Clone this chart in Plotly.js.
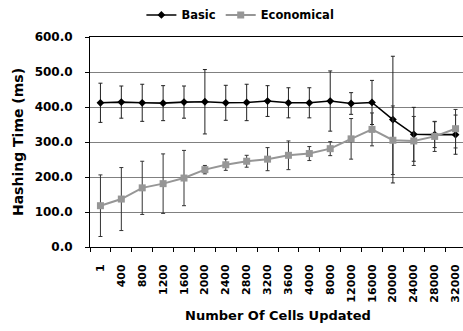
<!DOCTYPE html>
<html>
<head>
<meta charset="utf-8">
<script src="https://cdn.plot.ly/plotly-3.0.1.min.js"></script>
<style>
html,body{margin:0;padding:0;overflow:hidden;background:#fff;}
#chart{width:466px;height:331px;}
</style>
</head>
<body>
<div id="chart"></div>
<script>
const categories = ['1','400','800','1200','1600','2000','2400','2800','3200','3600','4000','8000','12000','16000','20000','24000','28000','32000'];
const basicValues = [412,414,412,411,414,415,412,413,417,412,412,417,410,413,364,322,321,321];
const basicErrors = [56,46,53,50,46,92,50,52,44,43,43,86,31,63,181,77,37,56];
const economicalValues = [118,137,169,181,197,221,235,245,251,262,267,281,309,336,305,303,316,338];
const economicalErrors = [88,90,76,85,79,12,16,17,33,41,20,20,58,47,98,70,43,55];
const yTickValues = [0,100,200,300,400,500,600];

const FONT = 'DejaVu Sans, Liberation Sans, Arial, sans-serif';

const traces = [
  {
    name: 'Basic', type: 'scatter', mode: 'lines+markers',
    x: categories, y: basicValues,
    line: {color: '#000000', width: 1.6},
    marker: {symbol: 'diamond', size: 6, color: '#000000'},
    error_y: {type: 'data', array: basicErrors, visible: true, color: '#222222', thickness: 1, width: 2}
  },
  {
    name: 'Economical', type: 'scatter', mode: 'lines+markers',
    x: categories, y: economicalValues,
    line: {color: '#969696', width: 2},
    marker: {symbol: 'square', size: 7, color: '#969696'},
    error_y: {type: 'data', array: economicalErrors, visible: true, color: '#333333', thickness: 1, width: 2}
  }
];

const layout = {
  width: 466, height: 331,
  margin: {l: 90, r: 0, t: 33, b: 84, pad: 0},
  paper_bgcolor: '#ffffff', plot_bgcolor: '#ffffff',
  font: {family: FONT, color: '#000000', size: 11, weight: 'bold'},
  showlegend: true,
  legend: {
    orientation: 'h', x: 0.40, xanchor: 'center', y: 1.105, yanchor: 'middle',
    font: {family: FONT, size: 11.5, weight: 'bold', color: '#000'},
    itemwidth: 30, tracegroupgap: 0, bgcolor: 'rgba(0,0,0,0)'
  },
  xaxis: {
    type: 'category', categoryorder: 'array', categoryarray: categories,
    range: [-0.5, categories.length - 0.5],
    showline: true, linecolor: '#000', linewidth: 1, mirror: true,
    showgrid: false, zeroline: false,
    ticks: 'outside', tickson: 'boundaries', ticklen: 4, tickcolor: '#000', tickwidth: 1,
    tickangle: -90, tickfont: {family: FONT, size: 11, weight: 'bold'},
    ticklabelstandoff: 12,
    title: {text: 'Number Of Cells Updated', font: {family: FONT, size: 13, weight: 'bold'}, standoff: 9},
    automargin: false, fixedrange: true
  },
  yaxis: {
    range: [0, 600], tickvals: yTickValues, tickformat: '.1f',
    showline: true, linecolor: '#000', linewidth: 1,
    showgrid: true, gridcolor: '#808080', gridwidth: 1, zeroline: false,
    ticks: 'outside', ticklen: 4, tickcolor: '#000', tickwidth: 1,
    tickfont: {family: FONT, size: 12, weight: 'bold'},
    ticklabelstandoff: 10,
    title: {text: 'Hashing Time (ms)', font: {family: FONT, size: 14, weight: 'bold'}, standoff: 7},
    automargin: false, fixedrange: true
  }
};

Plotly.newPlot('chart', traces, layout, {displayModeBar: false, staticPlot: true});
</script>
</body>
</html>
